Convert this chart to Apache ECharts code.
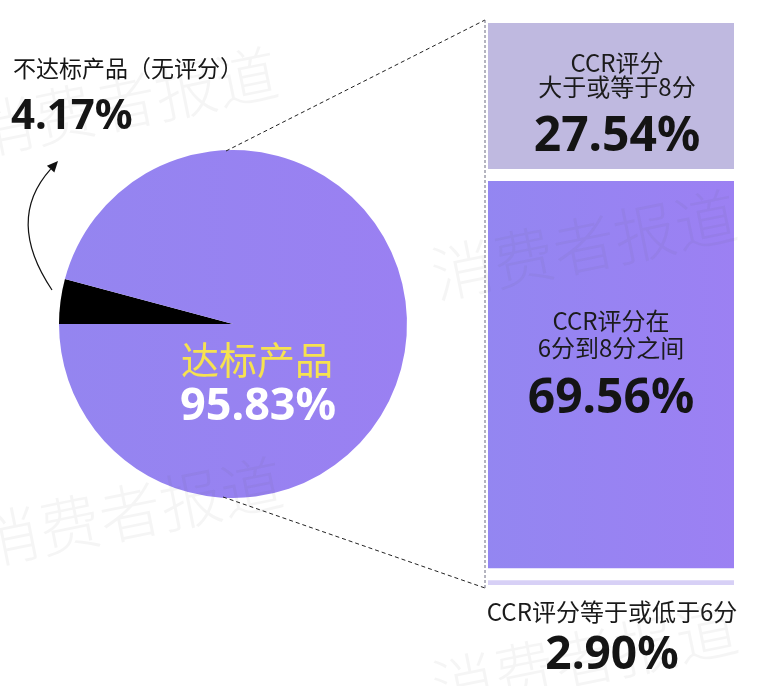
<!DOCTYPE html>
<html>
<head>
<meta charset="utf-8">
<script src="https://cdn.jsdelivr.net/npm/echarts@6/dist/echarts.min.js"></script>
<style>
html,body{margin:0;padding:0;background:#fff;}
#main{width:763px;height:686px;}
</style>
</head>
<body>
<div id="main"></div>
<script>
// ---- data ----
const pieNames = ['不达标产品（无评分）', '达标产品'];
const pieValues = [4.17, 95.83];
const barNames = ['CCR评分等于或低于6分', 'CCR评分在6分到8分之间', 'CCR评分大于或等于8分'];
const barValues = [2.90, 69.56, 27.54];
const barLabelLines = [['CCR评分等于或低于6分'], ['CCR评分在', '6分到8分之间'], ['CCR评分', '大于或等于8分']];
const watermarkText = '消费者报道';

// ---- layout ----
const W = 763, H = 686;
const pieC = [233, 324], pieR = 174;
const gridL = 482, gridR = 23, gridT = 17, gridB = 95;
const barLeft = gridL + 3, barTop = gridT + 3, barBottom = H - gridB - 3;

const FONT = '"Noto Sans", "Noto Sans CJK SC", sans-serif';
const CJK = '"Noto Sans CJK SC", "Noto Sans", sans-serif';

const barColors = [
  '#D7D0F6',
  new echarts.graphic.LinearGradient(0, 0, 1, 0, [{offset: 0, color: '#9386F1'}, {offset: 1, color: '#9C80F3'}]),
  '#BFB9E0'
];
const labelOffsets = [[1, 0], [0, -2], [6, 17]];
const rowH = [[28, 60], [27, 77], [24, 76]];

function fmt(v) { return v.toFixed(2) + '%'; }

const barSeries = barValues.map((v, i) => {
  const lines = barLabelLines[i].map(s => '{a|' + s + '}').join('\n');
  const isBottom = i === 0;
  return {
    type: 'bar',
    name: barNames[i],
    stack: 'ccr',
    barWidth: '100%',
    data: [v],
    silent: true,
    itemStyle: {color: barColors[i], borderColor: '#fff', borderWidth: 6},
    label: {
      show: true,
      position: isBottom ? 'bottom' : 'inside',
      distance: 7,
      offset: labelOffsets[i],
      formatter: lines + '\n{b|' + fmt(v) + '}',
      rich: {
        a: {fontFamily: CJK, fontSize: 24, color: '#1b1b1b', lineHeight: rowH[i][0], align: 'center'},
        b: {fontFamily: FONT, fontSize: isBottom ? 46 : 48, fontWeight: 'bold', color: '#141414', lineHeight: rowH[i][1], align: 'center'}
      }
    }
  };
});

const chart = echarts.init(document.getElementById('main'), null, {renderer: 'canvas'});

// connector geometry derived from layout
const topPt = [pieC[0] - 7, pieC[1] - pieR + 1];
const botPt = [pieC[0] - 10, pieC[1] + pieR - 1];

// arrow
const aStart = [52, 290], aCtrl = [5, 220], aEnd = [58, 161];
const dx = aEnd[0] - aCtrl[0], dy = aEnd[1] - aCtrl[1];
const ang = Math.atan2(dy, dx);
const ah = 11, aw = 5;
const back = [aEnd[0] - ah * Math.cos(ang), aEnd[1] - ah * Math.sin(ang)];
const head = [
  aEnd,
  [back[0] + aw * Math.sin(ang), back[1] - aw * Math.cos(ang)],
  [back[0] - aw * Math.sin(ang), back[1] + aw * Math.cos(ang)]
];

const watermarks = [[125, 102], [584, 245], [130, 512], [585, 658]];

const graphics = [
  {type: 'line', z: 5, shape: {x1: topPt[0], y1: topPt[1], x2: barLeft, y2: barTop}, style: {stroke: '#222', lineWidth: 1, lineDash: [4, 3]}},
  {type: 'line', z: 5, shape: {x1: botPt[0], y1: botPt[1], x2: barLeft, y2: barBottom}, style: {stroke: '#222', lineWidth: 1, lineDash: [4, 3]}},
  {type: 'line', z: 5, shape: {x1: barLeft, y1: barTop, x2: barLeft, y2: barBottom}, style: {stroke: '#6b6b80', lineWidth: 1, lineDash: [3, 2]}},
  {type: 'bezierCurve', z: 5, shape: {x1: aStart[0], y1: aStart[1], cpx1: aCtrl[0], cpy1: aCtrl[1], x2: back[0], y2: back[1]}, style: {stroke: '#111', lineWidth: 1.2, fill: null}},
  {type: 'polygon', z: 5, shape: {points: head}, style: {fill: '#111'}},
  {type: 'text', z: 6, left: 13, top: 57, style: {text: pieNames[0], font: '23px ' + CJK, fill: '#151515'}},
  {type: 'text', z: 6, left: 11, top: 96, style: {text: fmt(pieValues[0]), font: 'bold 42px ' + FONT, fill: '#141414'}},
  {type: 'text', z: 6, left: 181, top: 341, style: {text: pieNames[1], font: '38px ' + CJK, fill: '#F6E24F'}},
  {type: 'text', z: 6, left: 180, top: 385, style: {text: fmt(pieValues[1]), font: 'bold 45px ' + FONT, fill: '#ffffff'}}
];
watermarks.forEach(p => {
  graphics.push({type: 'text', z: 50, x: p[0], y: p[1], rotation: 0.2, silent: true,
    style: {text: watermarkText, font: '300 62px ' + CJK, fill: 'rgba(90,90,90,0.06)', align: 'center', verticalAlign: 'middle'}});
});

chart.setOption({
  animation: false,
  backgroundColor: '#ffffff',
  grid: {left: gridL, right: gridR, top: gridT, bottom: gridB},
  xAxis: {type: 'category', data: ['CCR'], show: false},
  yAxis: {type: 'value', min: 0, max: 100, show: false},
  series: [
    {
      type: 'pie',
      center: pieC,
      radius: pieR,
      startAngle: 180,
      clockwise: true,
      silent: true,
      label: {show: false},
      labelLine: {show: false},
      itemStyle: {borderWidth: 0},
      data: pieNames.map((n, i) => ({
        name: n, value: pieValues[i],
        itemStyle: {color: i === 0 ? '#000000' : new echarts.graphic.LinearGradient(0, 0, 1, 0, [{offset: 0, color: '#9485F0'}, {offset: 1, color: '#9A80F2'}])}
      }))
    },
    ...barSeries
  ],
  graphic: graphics
});
</script>
</body>
</html>
